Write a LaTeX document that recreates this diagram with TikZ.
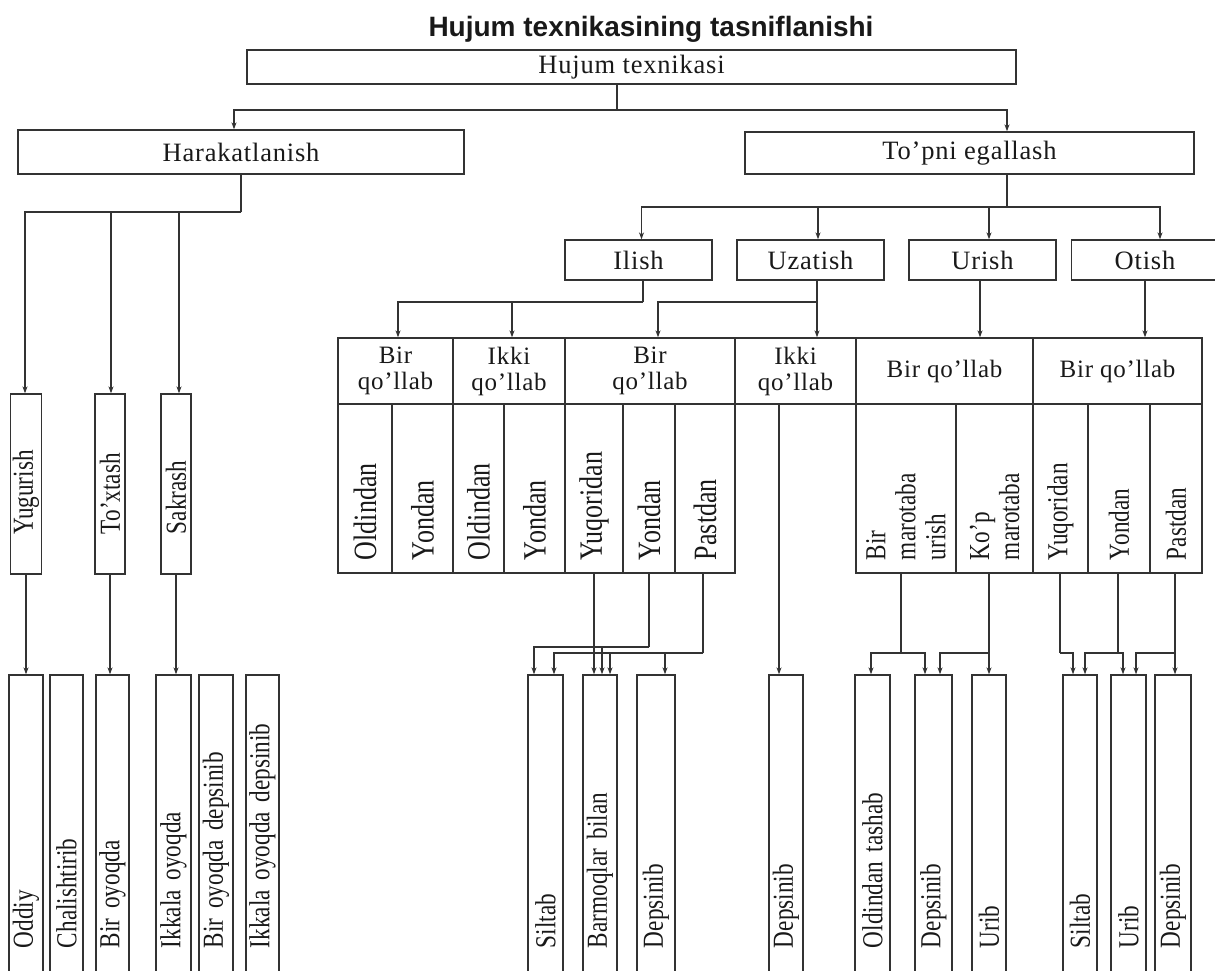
\documentclass[tikz,border=0pt]{standalone}
\usepackage{fontspec}
\setmainfont{Liberation Serif}
\newfontfamily\hserif[LetterSpace=3]{Liberation Serif}
\newfontfamily\vserif[FakeStretch=0.8]{Liberation Serif}
\newfontfamily\tsans{Liberation Sans}
\usepackage{tikz}
\usetikzlibrary{arrows.meta}

\tikzset{
	box/.style = {draw, inner sep=0pt, text=black!90, font=\hserif\fontsize{26.5}{28}\selectfont},
	cell/.style = {box, minimum width=#1, minimum height=66pt, align=center, font=\hserif\fontsize{25}{26}\selectfont},
	vbox/.style = {draw, rotate=90, align=left, inner ysep=0pt, text=black!90},
	sub/.style = {vbox, minimum height=#1, inner xsep=13pt, text width=143pt, font=\vserif\fontsize{32.5}{30}\selectfont},
	subs/.style = {sub=#1, font=\vserif\fontsize{29}{30}\selectfont},
	mid/.style = {vbox, minimum height=#1, inner xsep=40pt, text width=100pt, font=\vserif\fontsize{29}{30}\selectfont},
	bot/.style = {vbox, minimum height=#1, inner xsep=32pt, text width=241pt, font=\vserif\fontsize{29}{30}\selectfont}
}

\begin{document}
\begin{tikzpicture}[x=1pt, y=-1pt, color=black!80, line width=1.3pt, >={Stealth[length=7pt,width=5pt]}]
	\useasboundingbox (0,0) rectangle (1215,970);
	\clip (0,0) rectangle (1215,970);

	\node[anchor=base, text=black!90, font=\tsans\bfseries\fontsize{28}{30}\selectfont] (title) at (651,36) {Hujum texnikasining tasniflanishi};

	\node[box, minimum width=769pt, minimum height=34pt] (T0) at (631.5,67) {Hujum texnikasi};
	\node[box, minimum width=446pt, minimum height=44pt] (H) at (241,152) {Harakatlanish};
	\node[box, minimum width=449pt, minimum height=42pt] (E) at (969.5,153) {To’pni egallash};

	\node[mid=31pt] (H1) at (26,484) {Yugurish};
	\node[mid=30pt] (H2) at (110,484) {To’xtash};
	\node[mid=30pt] (H3) at (176,484) {Sakrash};

	\node[bot=34pt] (HB1) at (26,827.5) {Oddiy};
	\node[bot=33pt] (HB2) at (66.5,827.5) {Chalishtirib};
	\node[bot=33pt] (HB3) at (112.5,827.5) {Bir oyoqda};
	\node[bot=35pt] (HB4) at (173.5,827.5) {Ikkala oyoqda};
	\node[bot=34pt] (HB5) at (216,827.5) {Bir oyoqda depsinib};
	\node[bot=33pt] (HB6) at (262.5,827.5) {Ikkala oyoqda depsinib};

	\node[box, minimum width=147pt, minimum height=40pt] (E1) at (638.5,260) {Ilish};
	\node[box, minimum width=147pt, minimum height=40pt] (E2) at (810.5,260) {Uzatish};
	\node[box, minimum width=147pt, minimum height=40pt] (E3) at (982.5,260) {Urish};
	\node[box, minimum width=147pt, minimum height=40pt] (E4) at (1145,260) {Otish};

	\node[cell=115pt] (C1) at (395.5,371) {Bir\\qo’llab};
	\node[cell=112pt] (C2) at (509,371) {Ikki\\qo’llab};
	\node[cell=170pt] (C3) at (650,371) {Bir\\qo’llab};
	\node[cell=121pt] (C4) at (795.5,371) {Ikki\\qo’llab};
	\node[cell=177pt] (C5) at (944.5,371) {Bir qo’llab};
	\node[cell=169pt] (C6) at (1117.5,371) {Bir qo’llab};

	\node[sub=54pt] (S11) at (365,488.5) {Oldindan};
	\node[sub=61pt] (S12) at (422.5,488.5) {Yondan};
	\node[sub=51pt] (S21) at (478.5,488.5) {Oldindan};
	\node[sub=61pt] (S22) at (534.5,488.5) {Yondan};
	\node[sub=58pt] (S31) at (594,488.5) {Yuqoridan};
	\node[sub=52pt] (S32) at (649,488.5) {Yondan};
	\node[sub=60pt] (S33) at (705,488.5) {Pastdan};
	\node[subs=100pt] (S51) at (906,488.5) {Bir\\marotaba\\urish};
	\node[subs=77pt] (S52) at (994.5,488.5) {Ko’p\\marotaba};
	\node[subs=55pt] (S61) at (1060.5,488.5) {Yuqoridan};
	\node[subs=62pt] (S62) at (1119,488.5) {Yondan};
	\node[subs=52pt] (S63) at (1176,488.5) {Pastdan};

	\node[bot=35pt] (B1) at (545.5,827.5) {Siltab};
	\node[bot=34pt] (B2) at (600,827.5) {Barmoqlar bilan};
	\node[bot=38pt] (B3) at (656,827.5) {Depsinib};
	\node[bot=34pt] (B4) at (786,827.5) {Depsinib};
	\node[bot=35pt] (B5) at (872.5,827.5) {Oldindan tashab};
	\node[bot=37pt] (B6) at (933.5,827.5) {Depsinib};
	\node[bot=34pt] (B7) at (989,827.5) {Urib};
	\node[bot=34pt] (B8) at (1080,827.5) {Siltab};
	\node[bot=35pt] (B9) at (1128.5,827.5) {Urib};
	\node[bot=36pt] (B10) at (1173,827.5) {Depsinib};

	\coordinate (J0) at (617,110);
	\coordinate (JH) at (241,212);
	\coordinate (JE) at (1007,207);
	\coordinate (JI) at (643,302);
	\coordinate (JU) at (817,302);
	\coordinate (JR) at (980,300);
	\coordinate (JK) at (779,404);
	\coordinate (J32) at (649,647);
	\coordinate (J33) at (703,653);
	\coordinate (J51) at (901,653);
	\coordinate (J52) at (989,653);
	\coordinate (J61) at (1060,653);
	\coordinate (J62) at (1118,653);
	\coordinate (J63) at (1175,653);

	\draw (T0.south -| J0) -- (J0);
	\draw[->] (J0) -| ([xshift=-7pt]H.north);
	\draw[->] (J0) -| ([xshift=37.5pt]E.north);

	\draw (H.south) -- (JH);
	\draw[->] (JH) -| ([xshift=-1pt]H1.east);
	\draw[->] (JH) -| ([xshift=1pt]H2.east);
	\draw[->] (JH) -| ([xshift=3pt]H3.east);
	\draw[->] (H1.west) -- (H1.west |- HB1.east);
	\draw[->] (H2.west) -- (H2.west |- HB3.east);
	\draw[->] (H3.west) -- (H3.west |- HB4.east);

	\draw (E.south -| JE) -- (JE);
	\draw[->] (JE) -| ([xshift=3pt]E1.north);
	\draw[->] (JE) -| ([xshift=7.5pt]E2.north);
	\draw[->] (JE) -| ([xshift=6.5pt]E3.north);
	\draw[->] (JE) -| ([xshift=15pt]E4.north);

	\draw (E1.south -| JI) -- (JI);
	\draw[->] (JI) -| ([xshift=2.5pt]C1.north);
	\draw[->] (JI) -| ([xshift=3pt]C2.north);
	\draw[->] (E2.south -| JU) -- (JU |- C4.north);
	\draw[->] (JU) -| ([xshift=8pt]C3.north);
	\draw[->] (E3.south -| JR) -- (JR |- C5.north);
	\draw[->] (E4.south) -- (E4.south |- C6.north);

	\draw[->] (C4.south -| JK) -- (JK |- B4.east);

	\draw[->] (S31.west) -- (S31.west |- B2.east);
	\draw (S32.west -| J32) -- (J32);
	\draw[->] (J32) -| ([xshift=-11.5pt]B1.east);
	\draw[->] (J32) -| ([xshift=2pt]B2.east);
	\draw (S33.west -| J33) -- (J33);
	\draw[->] (J33) -| ([xshift=8.5pt]B1.east);
	\draw[->] (J33) -| ([xshift=10pt]B2.east);
	\draw[->] (J33) -| ([xshift=9pt]B3.east);

	\draw (S51.west -| J51) -- (J51);
	\draw[->] (J51) -| ([xshift=-1.5pt]B5.east);
	\draw[->] (J51) -| ([xshift=-8.5pt]B6.east);
	\draw (S52.west -| J52) -- (J52);
	\draw[->] (J52) -| ([xshift=6.5pt]B6.east);
	\draw[->] (J52) -- (J52 |- B7.east);

	\draw (S61.west -| J61) -- (J61);
	\draw[->] (J61) -| ([xshift=-7pt]B8.east);
	\draw (S62.west -| J62) -- (J62);
	\draw[->] (J62) -| ([xshift=5pt]B8.east);
	\draw[->] (J62) -| ([xshift=-5.5pt]B9.east);
	\draw (S63.west -| J63) -- (J63);
	\draw[->] (J63) -| ([xshift=7.5pt]B9.east);
	\draw[->] (J63) -| ([xshift=2pt]B10.east);

\end{tikzpicture}
\end{document}
